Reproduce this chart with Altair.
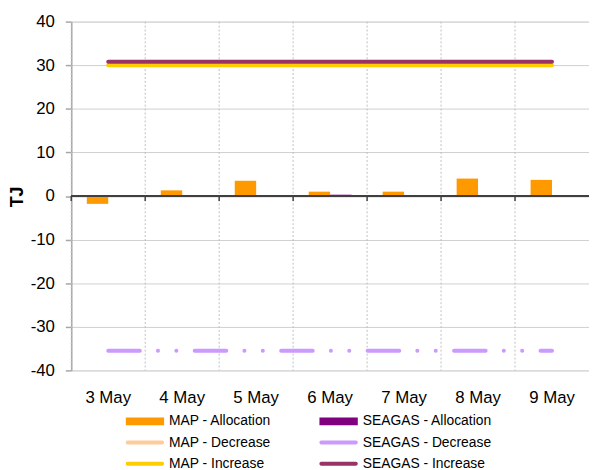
import altair as alt
import pandas as pd

# ---- data ----
dates = ["3 May", "4 May", "5 May", "6 May", "7 May", "8 May", "9 May"]
map_allocation = [-1.8, 1.3, 3.5, 1.0, 1.0, 4.0, 3.7]
seagas_allocation = [0.0, 0.0, 0.0, 0.3, 0.0, 0.0, 0.0]
map_increase = [30.0, 30.0, 30.0, 30.0, 30.0, 30.0, 30.0]
seagas_increase = [30.8, 30.8, 30.8, 30.8, 30.8, 30.8, 30.8]
seagas_decrease = [-35.5, -35.5, -35.5, -35.5, -35.5, -35.5, -35.5]

series = ["MAP - Allocation", "SEAGAS - Allocation", "MAP - Decrease",
          "SEAGAS - Decrease", "MAP - Increase", "SEAGAS - Increase"]
colors = ["#FF9900", "#800080", "#FFCC99", "#CC99FF", "#FFCC00", "#993366"]
y_ticks = [-40, -30, -20, -10, 0, 10, 20, 30, 40]

FONT = "Liberation Sans"

bars_df = pd.DataFrame(
    [{"date": d, "series": "MAP - Allocation", "value": v} for d, v in zip(dates, map_allocation)]
    + [{"date": d, "series": "SEAGAS - Allocation", "value": v} for d, v in zip(dates, seagas_allocation)]
)
lines_df = pd.DataFrame(
    [{"date": d, "series": "MAP - Increase", "value": v, "kind": "solid"} for d, v in zip(dates, map_increase)]
    + [{"date": d, "series": "SEAGAS - Increase", "value": v, "kind": "solid"} for d, v in zip(dates, seagas_increase)]
    + [{"date": d, "series": "SEAGAS - Decrease", "value": v, "kind": "dash"} for d, v in zip(dates, seagas_decrease)]
)
dates_df = pd.DataFrame({"date": dates, "zero": [0] * len(dates)})
legend_df = pd.DataFrame({"series": series, "date": [dates[0]] * len(series), "value": [0] * len(series)})

x_scale = alt.Scale(domain=dates, paddingInner=0, paddingOuter=0)
y_scale = alt.Scale(domain=[-40, 40], nice=False)
color_scale = alt.Scale(domain=series, range=colors)

bar_path = "M-1,-0.2H1V0.2H-1Z"
line_path = "M-0.9,-0.1H0.9A0.1,0.1 0 0 1 0.9,0.1H-0.9A0.1,0.1 0 0 1 -0.9,-0.1Z"
shape_scale = alt.Scale(domain=series, range=[bar_path, bar_path, line_path, line_path, line_path, line_path])

x_axis = alt.Axis(title=None, domain=False, ticks=False, grid=False, bandPosition=0.5,
                  labelFont=FONT, labelFontSize=17, labelColor="#000000",
                  labelPadding=19, labelAngle=0)
y_axis = alt.Axis(title="TJ", values=y_ticks, labelExpr="datum.value + ''",
                  titleFont=FONT, titleFontSize=18, titleFontWeight="bold",
                  titleColor="#000000", titleX=-54.5, titleY=177,
                  titleAlign="center", titleBaseline="middle", titleAngle=270,
                  labelFont=FONT, labelFontSize=17, labelColor="#000000",
                  labelPadding=11,
                  domainColor="#A6A6A6", domainWidth=1.5,
                  tickColor="#A6A6A6", tickSize=6, tickWidth=1.5,
                  gridColor="#CFCFCF", gridWidth=1)


def X(band=None):
    if band is None:
        return alt.X("date:N", scale=x_scale, sort=dates, axis=x_axis)
    return alt.X("date:N", scale=x_scale, sort=dates, axis=x_axis, bandPosition=band)


def Y(field="value"):
    return alt.Y(f"{field}:Q", scale=y_scale, axis=y_axis)


legend_cfg = dict(title=None, orient="none", legendX=55, legendY=395.5,
                  columns=2, direction="horizontal",
                  columnPadding=48, rowPadding=3.5, clipHeight=18,
                  symbolSize=1521, symbolOpacity=1, symbolStrokeWidth=0,
                  labelFont=FONT, labelFontSize=14, labelColor="#000000",
                  labelOffset=5, padding=0)

# invisible points carry the legend (colour + symbol shape)
legend_layer = alt.Chart(legend_df).mark_point(filled=True, opacity=0).encode(
    x=X(),
    y=Y(),
    color=alt.Color("series:N", scale=color_scale, sort=series, legend=alt.Legend(**legend_cfg)),
    shape=alt.Shape("series:N", scale=shape_scale, sort=series, legend=alt.Legend(**legend_cfg)),
)

vgrid = alt.Chart(dates_df).mark_rule(color="#BFBFBF", strokeWidth=1, strokeDash=[2, 2]).encode(
    x=X(0)
)

bars = alt.Chart(bars_df).mark_bar().encode(
    x=X(),
    xOffset=alt.XOffset("series:N", scale=alt.Scale(domain=["MAP - Allocation", "SEAGAS - Allocation"],
                                                   paddingInner=0, paddingOuter=0.727)),
    y=Y(),
    color=alt.Color("series:N", scale=color_scale, legend=None),
)

zero_line = alt.Chart(dates_df).mark_rule(color="#404040", strokeWidth=1).encode(
    y=Y("zero")
)
zero_ticks = alt.Chart(dates_df).mark_rule(color="#404040", strokeWidth=1.5, y2Offset=5).encode(
    x=X(0),
    y=Y("zero"),
    y2="zero:Q",
)

solid_lines = alt.Chart(lines_df).transform_filter(alt.datum.kind == "solid").mark_line(
    strokeWidth=4, strokeCap="round").encode(
    x=X(),
    y=Y(),
    color=alt.Color("series:N", scale=color_scale, legend=None),
    detail="series:N",
)
dash_line = alt.Chart(lines_df).transform_filter(alt.datum.kind == "dash").mark_line(
    strokeWidth=4, strokeCap="round", strokeDash=[32, 18.3, 0.1, 18.5, 0.1, 18.5]).encode(
    x=X(),
    y=Y(),
    color=alt.Color("series:N", scale=color_scale, legend=None),
)

chart = alt.layer(legend_layer, vgrid, bars, zero_line, zero_ticks, solid_lines, dash_line).properties(
    width=524, height=353,
    autosize=alt.AutoSizeParams(type="none"),
    padding={"left": 64, "top": 11, "right": 0, "bottom": 98},
).configure_view(stroke=None).configure(background="#FFFFFF")

chart.save("out.html", embed_options={"renderer": "svg", "actions": False})
